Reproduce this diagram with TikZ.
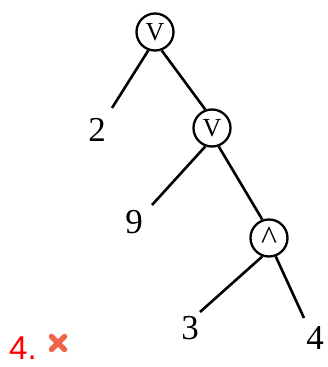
\documentclass[tikz,border=0pt]{standalone}
\usepackage{fontspec}
\usetikzlibrary{calc}
\setmainfont{Liberation Serif}
\newfontfamily\labelsans{Liberation Sans}
\begin{document}
\begin{tikzpicture}[x=1pt,y=1pt,
  op/.style={circle,draw,line width=2.3pt,minimum size=37pt,inner sep=0pt,font=\fontsize{26}{26}\selectfont},
  leaf/.style={font=\fontsize{35}{35}\selectfont,inner sep=0pt},
  edge/.style={line width=2.6pt}]
\useasboundingbox (0,0) rectangle (328,367);
\node[op] (c1) at (155,335) {V};
\node[op] (c2) at (212,239) {V};
\node[op] (c3) at (269,129) {\raisebox{-0.3em}{\fontsize{34}{34}\selectfont\textasciicircum}};
\coordinate (e2) at (112,259);
\coordinate (e9) at (152,162);
\coordinate (e3) at (200,55);
\coordinate (e4) at (304,49);
\node[leaf] (l2) at (97,237) {2};
\node[leaf] (l9) at (134,145) {9};
\node[leaf] (l3) at (190,39) {3};
\node[leaf] (l4) at (315,29) {4};
\draw[edge] (c1.250) -- (e2);
\draw[edge] (c1.290) -- (c2.110);
\draw[edge] (c2.250) -- (e9);
\draw[edge] (c2.290) -- (c3.110);
\draw[edge] (c3.250) -- (e3);
\draw[edge] (c3.290) -- (e4);
\node[font=\labelsans\fontsize{33}{33}\selectfont,text=red,inner sep=0pt] (num) at (23,19) {4.};
\coordinate (x) at (58,24);
\draw[line width=5.5pt,line cap=round,color={rgb,255:red,238;green,100;blue,75}] ($(x)+(-6.5,-6.5)$) -- ($(x)+(6.5,6.5)$) ($(x)+(-6.5,6.5)$) -- ($(x)+(6.5,-6.5)$);
\end{tikzpicture}
\end{document}
